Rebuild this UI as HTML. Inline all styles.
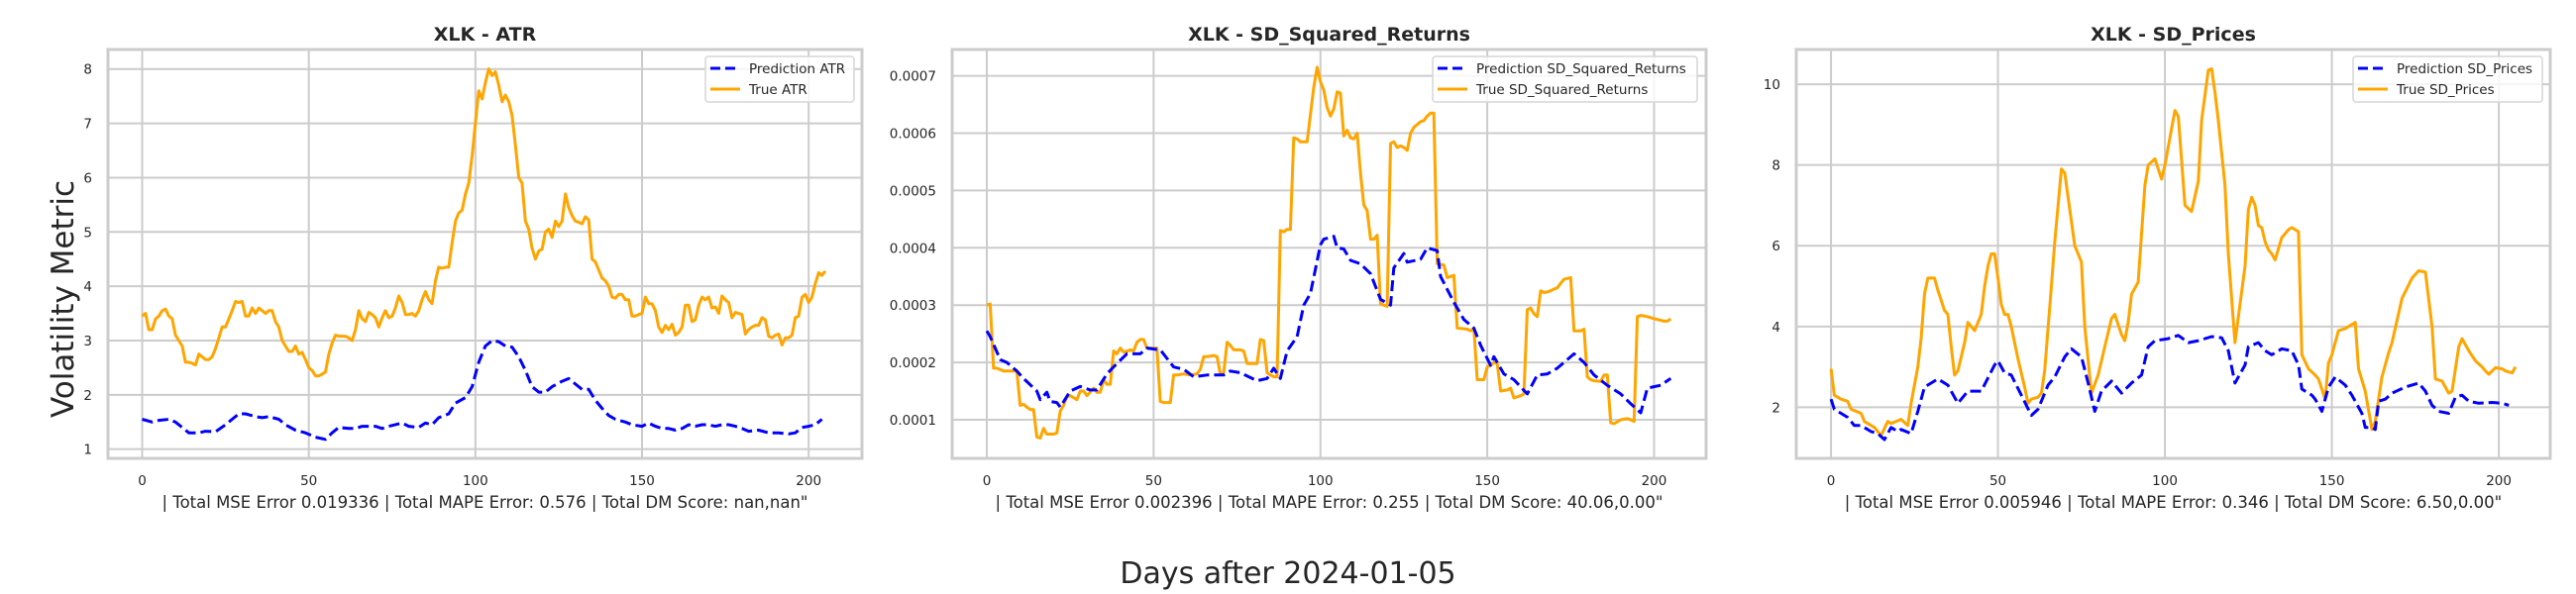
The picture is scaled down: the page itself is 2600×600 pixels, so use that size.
<!DOCTYPE html>
<html><head><meta charset="utf-8"><style>
html,body{margin:0;padding:0;background:#fff;}
svg{display:block;font-family:"DejaVu Sans","Liberation Sans",sans-serif;}
</style></head><body>
<svg id="fig" width="2600" height="600" viewBox="0 0 2600 600" xmlns="http://www.w3.org/2000/svg">
<rect width="2600" height="600" fill="#fff"/>
<text x="74" y="302" font-size="31" fill="#262626" text-anchor="middle" transform="rotate(-90 74 302)">Volatility Metric</text>
<text x="1300" y="589" font-size="30" fill="#262626" text-anchor="middle">Days after 2024-01-05</text>
</svg>
<script>
// ---- ATR panel data ----
const atrTrue = [3.45,3.5,3.2,3.2,3.4,3.45,3.55,3.58,3.45,3.4,3.1,3.0,2.9,2.6,2.6,2.58,2.55,2.75,2.7,2.65,2.65,2.7,2.85,3.05,3.25,3.25,3.4,3.55,3.72,3.7,3.72,3.45,3.45,3.6,3.5,3.6,3.55,3.5,3.55,3.55,3.35,3.25,3.0,2.9,2.8,2.8,2.9,2.75,2.78,2.65,2.5,2.45,2.35,2.35,2.38,2.42,2.75,2.95,3.1,3.08,3.08,3.08,3.05,3.0,3.2,3.55,3.4,3.35,3.52,3.48,3.42,3.25,3.42,3.55,3.42,3.45,3.6,3.82,3.7,3.48,3.48,3.5,3.45,3.55,3.75,3.9,3.75,3.68,4.1,4.35,4.33,4.35,4.35,4.8,5.2,5.35,5.4,5.7,5.9,6.4,7.0,7.6,7.45,7.75,8.0,7.88,7.95,7.7,7.4,7.52,7.4,7.15,6.6,6.0,5.9,5.2,5.05,4.7,4.5,4.65,4.68,5.0,5.05,4.9,5.2,5.1,5.2,5.7,5.45,5.3,5.2,5.18,5.15,5.28,5.22,4.5,4.45,4.3,4.15,4.1,4.0,3.8,3.78,3.85,3.85,3.75,3.75,3.45,3.45,3.48,3.5,3.8,3.68,3.68,3.55,3.25,3.15,3.28,3.2,3.3,3.1,3.15,3.25,3.65,3.65,3.35,3.38,3.65,3.8,3.75,3.8,3.6,3.62,3.5,3.82,3.75,3.7,3.42,3.52,3.5,3.48,3.12,3.2,3.25,3.28,3.28,3.42,3.38,3.08,3.05,3.1,3.12,2.92,3.05,3.05,3.1,3.42,3.45,3.8,3.85,3.7,3.8,4.05,4.25,4.2,4.28];
const atrPredDays = [0,3,5,8,10,12,14,17,19,22,25,27,29,31,34,36,38,41,43,46,49,52,55,57,59,62,64,66,70,72,74,78,80,83,85,87,89,92,94,97,99,101,103,105,107,109,111,113,115,117,119,121,123,126,128,130,132,134,136,138,140,142,145,147,150,152,154,156,158,160,162,164,166,168,170,172,174,176,178,180,182,185,188,191,194,196,198,200,202,204];
const atrPred = [1.55,1.5,1.53,1.55,1.5,1.4,1.3,1.3,1.33,1.32,1.45,1.55,1.65,1.65,1.6,1.58,1.6,1.55,1.45,1.35,1.3,1.22,1.18,1.3,1.4,1.38,1.38,1.42,1.42,1.38,1.42,1.48,1.42,1.4,1.48,1.45,1.58,1.65,1.85,1.95,2.15,2.6,2.9,3.0,2.98,2.9,2.88,2.7,2.45,2.15,2.05,2.05,2.15,2.25,2.3,2.2,2.1,2.1,1.9,1.75,1.62,1.55,1.5,1.45,1.42,1.48,1.42,1.38,1.38,1.35,1.38,1.45,1.42,1.45,1.45,1.42,1.45,1.45,1.42,1.38,1.33,1.35,1.3,1.3,1.28,1.3,1.4,1.42,1.45,1.55];
const atrYTicks = [1,2,3,4,5,6,7,8];
const atrYTickLabels = ["1","2","3","4","5","6","7","8"];

// ---- SD_Squared_Returns panel data (values in 1e-4) ----
const sqrTrueDays = [0,1,2,3,5,8,9,10,11,12,13,14,15,16,17,18,20,21,22,23,24,25,27,28,29,30,32,33,34,35,36,37,38,39,40,41,43,44,45,46,47,48,50,51,52,53,55,56,57,59,61,63,64,65,66,68,69,70,71,72,73,74,76,77,78,79,81,82,83,84,85,86,87,88,89,90,91,92,93,94,96,98,99,100,101,102,103,104,105,106,107,108,109,110,111,112,113,114,115,116,117,118,119,120,121,122,123,124,125,126,127,128,129,130,131,132,133,134,135,137,138,139,140,141,144,145,146,147,149,150,151,152,153,154,156,157,158,160,161,162,163,164,165,166,167,168,169,170,171,172,173,175,176,178,179,180,181,182,184,185,186,187,188,190,192,193,194,195,196,198,199,201,203,204,205];
const sqrTrue = [3.0,3.02,1.9,1.9,1.85,1.85,1.85,1.25,1.27,1.22,1.18,1.18,0.7,0.68,0.85,0.75,0.75,0.77,1.15,1.25,1.4,1.42,1.35,1.5,1.5,1.42,1.55,1.48,1.48,1.7,1.62,1.62,2.2,2.15,2.25,2.18,2.22,2.2,2.35,2.4,2.4,2.25,2.25,2.25,1.32,1.3,1.3,1.78,1.78,1.8,1.78,1.8,1.88,2.1,2.1,2.12,2.1,1.8,1.82,2.35,2.3,2.22,2.22,2.2,1.98,1.98,1.98,2.4,2.38,1.82,1.78,1.75,1.75,4.3,4.28,4.32,4.32,5.92,5.9,5.85,5.85,6.8,7.15,6.9,6.75,6.45,6.3,6.42,6.72,6.7,5.95,6.05,5.92,5.9,6.0,5.3,4.75,4.65,4.15,4.15,4.22,3.02,3.0,2.98,5.82,5.85,5.75,5.78,5.75,5.7,6.0,6.1,6.15,6.2,6.22,6.3,6.35,6.35,3.72,3.7,3.48,3.5,3.52,2.6,2.58,2.55,2.6,1.7,1.7,1.92,1.95,2.0,1.98,1.5,1.52,1.55,1.38,1.42,1.45,2.92,2.95,2.85,2.8,3.25,3.22,3.23,3.25,3.28,3.3,3.38,3.45,3.48,2.55,2.55,2.58,1.75,1.7,1.68,1.67,1.78,1.78,0.95,0.93,1.0,1.02,1.0,0.97,2.8,2.82,2.8,2.78,2.75,2.72,2.72,2.76];
const sqrPredDays = [0,1,4,6,9,11,15,16,18,19,21,22,25,28,31,33,36,39,42,46,48,52,56,59,62,66,71,73,76,81,84,86,88,90,93,95,97,100,101,104,105,107,109,112,115,118,121,122,125,126,130,132,135,136,140,143,146,148,151,152,155,158,162,165,168,171,176,179,182,186,190,193,196,198,202,205];
const sqrPred = [2.55,2.45,2.05,2.0,1.85,1.72,1.5,1.35,1.48,1.32,1.3,1.22,1.5,1.58,1.52,1.52,1.8,1.98,2.15,2.15,2.25,2.22,1.92,1.88,1.75,1.78,1.78,1.85,1.82,1.68,1.72,1.9,1.72,2.2,2.45,3.0,3.2,4.05,4.15,4.2,4.0,3.98,3.78,3.72,3.55,3.1,3.0,3.65,3.9,3.75,3.8,4.0,3.95,3.5,3.05,2.75,2.6,2.3,1.95,2.1,1.8,1.7,1.45,1.78,1.8,1.9,2.15,2.0,1.78,1.6,1.45,1.28,1.12,1.55,1.6,1.72];
const sqrYTicks = [1,2,3,4,5,6,7];
const sqrYTickLabels = ["0.0001","0.0002","0.0003","0.0004","0.0005","0.0006","0.0007"];

// ---- SD_Prices panel data ----
const prTrueDays = [0,1,3,5,6,9,10,13,15,17,18,21,23,24,26,27,28,29,31,32,34,35,36,37,38,40,41,43,45,46,47,48,49,50,51,52,53,54,56,58,59,60,62,63,64,66,67,69,70,73,75,76,78,80,82,84,85,87,88,89,90,92,94,95,97,99,100,102,103,104,106,108,110,111,113,114,115,116,118,119,121,124,125,126,127,128,129,130,131,132,133,135,137,138,140,141,143,145,146,148,149,150,152,154,157,158,160,162,163,165,167,168,171,174,176,178,180,181,183,185,186,188,189,191,193,195,196,197,199,201,202,204,205];
const prTrue = [2.95,2.3,2.2,2.15,1.95,1.85,1.65,1.5,1.3,1.65,1.6,1.7,1.55,2.1,3.0,3.7,4.8,5.2,5.2,4.9,4.4,4.3,3.5,2.8,2.9,3.6,4.1,3.9,4.3,5.0,5.5,5.8,5.8,5.2,4.55,4.3,4.3,4.0,3.2,2.5,2.1,2.2,2.25,2.35,2.9,5.0,6.1,7.9,7.8,6.0,5.6,4.0,2.35,2.8,3.5,4.2,4.3,3.8,3.65,4.1,4.8,5.1,7.5,8.0,8.15,7.65,8.0,8.9,9.35,9.2,7.0,6.85,7.6,9.1,10.35,10.38,9.8,9.1,7.5,5.8,3.6,5.5,6.9,7.2,7.0,6.5,6.45,6.1,5.9,5.8,5.65,6.2,6.4,6.45,6.35,3.3,2.95,2.8,2.7,2.2,3.1,3.3,3.9,3.95,4.1,2.95,2.4,1.45,1.65,2.75,3.35,3.6,4.7,5.2,5.38,5.35,4.0,2.7,2.65,2.35,2.4,3.5,3.7,3.4,3.15,3.0,2.9,2.82,2.98,2.95,2.9,2.85,3.0,3.5];
const prPredDays = [0,1,3,5,7,9,12,14,16,18,20,21,24,26,28,32,35,38,41,45,49,50,52,54,57,60,62,65,67,70,72,75,77,79,81,84,87,90,93,95,97,101,104,107,110,114,117,119,121,124,125,128,130,132,135,138,140,141,144,145,147,149,151,154,156,159,160,162,163,164,166,168,172,176,178,180,182,185,187,189,191,194,198,201,203];
const prPred = [2.2,1.95,1.85,1.75,1.55,1.55,1.4,1.35,1.2,1.5,1.4,1.45,1.35,1.9,2.5,2.7,2.55,2.1,2.4,2.4,3.05,3.15,2.85,2.8,2.3,1.8,1.95,2.55,2.75,3.25,3.45,3.25,2.6,1.9,2.4,2.65,2.35,2.6,2.8,3.5,3.65,3.7,3.78,3.6,3.65,3.75,3.72,3.4,2.6,3.05,3.5,3.6,3.4,3.3,3.45,3.4,3.05,2.45,2.3,2.2,1.9,2.5,2.75,2.55,2.3,1.85,1.5,1.5,1.45,2.15,2.2,2.35,2.5,2.6,2.4,2.05,1.9,1.85,2.25,2.3,2.15,2.1,2.12,2.1,2.05];
const prYTicks = [2,4,6,8,10];
const prYTickLabels = ["2","4","6","8","10"];

const xTicks = [0,50,100,150,200];
const xTickLabels = ["0","50","100","150","200"];

const NS = "http://www.w3.org/2000/svg";
const fig = document.getElementById('fig');
function mk(tag, attrs, parent){
  const e = document.createElementNS(NS, tag);
  for (const k in attrs) e.setAttribute(k, attrs[k]);
  (parent||fig).appendChild(e);
  return e;
}
function drawPanel(p){
  const g = mk('g', {});
  
  
  const xs = v => p.L + (v - p.x0) / (p.x1 - p.x0) * (p.R - p.L);
  const ys = v => p.B - (v - p.y0) / (p.y1 - p.y0) * (p.B - p.T);
  const bg = mk('rect', {x:p.L, y:p.T, width:p.R-p.L, height:p.B-p.T, fill:'#fff'}, g);
  
  
  xTicks.forEach((t,i)=>{
    const x = xs(t);
    const l = mk('line', {x1:x, x2:x, y1:p.T, y2:p.B, stroke:'#cccccc', 'stroke-width':2}, g);
    
    
    const tx = mk('text', {x:x, y:490, 'font-size':13.5, fill:'#262626', 'text-anchor':'middle'}, g);
    tx.textContent = xTickLabels[i];
    
    
  });
  p.yt.forEach((t,i)=>{
    const y = ys(t);
    const l = mk('line', {x1:p.L, x2:p.R, y1:y, y2:y, stroke:'#cccccc', 'stroke-width':2}, g);
    
    
    const tx = mk('text', {x:p.L-16, y:y+5, 'font-size':13.5, fill:'#262626', 'text-anchor':'end'}, g);
    tx.textContent = p.ytl[i];
    
    
  });
  const fr = mk('rect', {x:p.L, y:p.T, width:p.R-p.L, height:p.B-p.T, fill:'none', stroke:'#cccccc', 'stroke-width':3}, g);
  
  
  const ptsT = p.tDays.map((d,i)=>xs(d).toFixed(1)+','+ys(p.tVals[i]).toFixed(1)).join(' ');
  const lt = mk('polyline', {points:ptsT, fill:'none', stroke:'#ffa500', 'stroke-width':3, 'stroke-linejoin':'round'}, g);
  
  
  const ptsP = p.pDays.map((d,i)=>xs(d).toFixed(1)+','+ys(p.pVals[i]).toFixed(1)).join(' ');
  const lp = mk('polyline', {points:ptsP, fill:'none', stroke:'#0000ff', 'stroke-width':3, 'stroke-dasharray':'11,5', 'stroke-linejoin':'round'}, g);
  
  
  const tt = mk('text', {x:(p.L+p.R)/2, y:41, 'font-size':19, 'font-weight':'bold', fill:'#262626', 'text-anchor':'middle'}, g);
  tt.textContent = p.title;
  
  
  const xl = mk('text', {x:(p.L+p.R)/2, y:513, 'font-size':16.5, fill:'#262626', 'text-anchor':'middle'}, g);
  xl.textContent = p.xlabel;
  
  
  // legend
  const lg = mk('g', {}, g);
  
  
  mk('rect', {x:p.legX, y:57, width:p.legW, height:46, rx:3, fill:'#fff', 'fill-opacity':0.8, stroke:'#d6d6d6', 'stroke-width':1.5}, lg);
  const e1 = mk('g', {}, lg);
  
  
  mk('line', {x1:p.legX+5, x2:p.legX+35, y1:69, y2:69, stroke:'#0000ff', 'stroke-width':3, 'stroke-dasharray':'10,5'}, e1);
  const t1 = mk('text', {x:p.legX+44, y:74, 'font-size':13.5, fill:'#262626'}, e1);
  t1.textContent = 'Prediction ' + p.metric;
  const e2 = mk('g', {}, lg);
  
  
  mk('line', {x1:p.legX+5, x2:p.legX+35, y1:90, y2:90, stroke:'#ffa500', 'stroke-width':3}, e2);
  const t2 = mk('text', {x:p.legX+44, y:95, 'font-size':13.5, fill:'#262626'}, e2);
  t2.textContent = 'True ' + p.metric;
}
const atrDays = atrTrue.map((v,i)=>i);
drawPanel({name:'atr', L:109, R:870, T:50, B:463, x0:-10.26, x1:216.0, y0:0.83, y1:8.36,
  yt:atrYTicks, ytl:atrYTickLabels, tDays:atrDays, tVals:atrTrue, pDays:atrPredDays, pVals:atrPred,
  title:'XLK - ATR', metric:'ATR', xlabel:'| Total MSE Error 0.019336 | Total MAPE Error: 0.576 | Total DM Score: nan,nan"', legX:712, legW:150});
drawPanel({name:'sd-squared-returns', L:961, R:1722, T:50, B:463, x0:-10.4, x1:215.6, y0:0.326, y1:7.46,
  yt:sqrYTicks, ytl:sqrYTickLabels, tDays:sqrTrueDays, tVals:sqrTrue, pDays:sqrPredDays, pVals:sqrPred,
  title:'XLK - SD_Squared_Returns', metric:'SD_Squared_Returns', xlabel:'| Total MSE Error 0.002396 | Total MAPE Error: 0.255 | Total DM Score: 40.06,0.00"', legX:1446, legW:267});
drawPanel({name:'sd-prices', L:1813, R:2574, T:50, B:463, x0:-10.4, x1:215.4, y0:0.735, y1:10.86,
  yt:prYTicks, ytl:prYTickLabels, tDays:prTrueDays, tVals:prTrue, pDays:prPredDays, pVals:prPred,
  title:'XLK - SD_Prices', metric:'SD_Prices', xlabel:'| Total MSE Error 0.005946 | Total MAPE Error: 0.346 | Total DM Score: 6.50,0.00"', legX:2375, legW:191});
</script>
</body></html>
